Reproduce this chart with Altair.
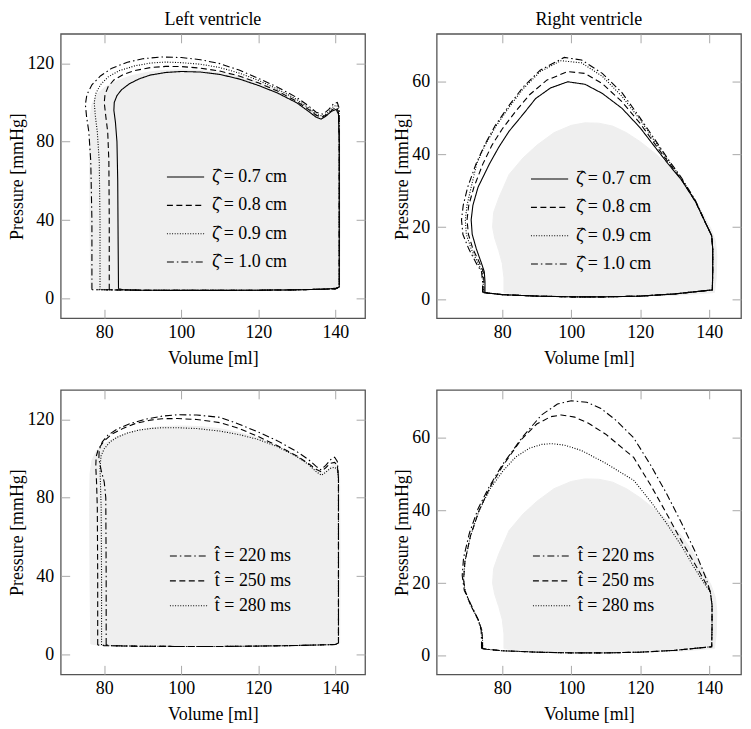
import altair as alt
import pandas as pd

FONT = "Liberation Serif"
FS = 18
W, H = 306, 286

# ---------------- data ----------------
x_ticks = [80, 100, 120, 140]
lv_y_ticks = [0, 40, 80, 120]
rv_y_ticks = [0, 20, 40, 60]
lv_x_domain = [68.7, 147.7]
lv_y_domain = [-10, 135]
rv_x_domain = [61, 149.2]
rv_y_domain = [-5.1, 73.2]

zeta_labels = ["ζ̂ = 0.7 cm", "ζ̂ = 0.8 cm", "ζ̂ = 0.9 cm", "ζ̂ = 1.0 cm"]
t_labels = ["t̂ = 220 ms", "t̂ = 250 ms", "t̂ = 280 ms"]

# reference loops (grey fill)
lv_ref_v = [76.5, 76.3, 76.2, 76.3, 76.8, 78, 80, 83, 87, 91, 95, 100, 105, 110, 115, 120, 125, 130, 133, 135,
            136.5, 138, 139.5, 140.6, 141.1, 141.2, 141.1, 140, 135, 125, 110, 95, 85, 79, 76.5]
lv_ref_p = [5.5, 40, 75, 92, 99, 104, 107.5, 110.8, 113.6, 115.3, 116.3, 116.6, 116.3, 115.2, 113.3, 110.5, 106.5, 101.5, 97, 94,
            93, 94.5, 97, 97, 90, 40, 6, 5.2, 4.7, 4.3, 4.1, 4.2, 4.4, 4.7, 5.5]
rv_ref_v = [80.5, 80.5, 80, 79, 77.8, 77.2, 77.5, 79, 82, 86, 90, 95, 100, 104, 108, 112, 116, 120, 124, 128,
            132, 135, 138, 140.5, 141.8, 142.2, 142, 141.5, 130, 110, 90, 82, 80.5]
rv_ref_p = [2, 6, 10, 13.5, 17, 20, 24, 28, 34.5, 39, 42.5, 46, 48, 48.7, 48.6, 47.8, 46, 43.5, 40.5, 37.2,
            33, 29, 24, 19.5, 16, 12, 6, 2, 1.2, 1, 1.3, 1.8, 2]

# left ventricle, zeta
lv_z07_v = [83.7, 83.6, 83.5, 83.3, 82.9, 82.5, 82.6, 83.3, 84.5, 86.5, 89, 92, 96, 100, 105, 110, 115, 120, 125, 130,
            133, 135, 136.3, 137.5, 139, 140.2, 140.8, 141, 141, 140.5, 138, 130, 120, 110, 100, 90, 85, 83.7]
lv_z07_p = [5, 30, 60, 80, 90, 96, 100, 103.5, 106.5, 109.5, 112, 114, 115.3, 115.8, 115.5, 114.3, 112, 108.7, 104.8, 99.8,
            95.5, 92.5, 91.5, 93, 95.5, 96.5, 94, 80, 6, 5.4, 4.9, 4.5, 4.3, 4.2, 4.2, 4.3, 4.5, 5]
lv_z08_v = [81.3, 81.3, 81.2, 80.9, 80.4, 80.0, 80.2, 81, 82.5, 85, 88, 92, 96, 100, 105, 110, 115, 120, 125, 130,
            133, 135, 136.5, 138, 139.3, 140.3, 140.8, 141, 141, 140, 130, 120, 110, 100, 90, 82, 80, 81.3]
lv_z08_p = [4.5, 40, 70, 85, 93, 100, 104, 108, 111.5, 114.3, 116.3, 117.8, 118.4, 118.3, 117.5, 116, 113.5, 110, 105.8, 100.5,
            96.5, 93.5, 92.5, 94, 96.5, 97.5, 95, 80, 6, 5, 4.5, 4.3, 4.2, 4.2, 4.3, 4.5, 4.5, 4.5]
lv_z09_v = [78.9, 78.9, 78.7, 78.2, 77.7, 77.4, 77.8, 79, 81, 84, 88, 92, 96, 100, 105, 110, 115, 120, 125, 130,
            133, 135, 136.7, 138.2, 139.5, 140.4, 140.9, 141, 141, 140, 130, 120, 110, 100, 90, 80, 78, 78.9]
lv_z09_p = [4.5, 40, 70, 85, 93, 100, 104.5, 109, 113, 116.3, 118.7, 120.1, 120.6, 120.3, 119.5, 117.8, 115, 111.3, 106.8, 101.5,
            97.3, 94, 93, 95, 98, 98.5, 96, 80, 6, 5, 4.5, 4.3, 4.2, 4.2, 4.3, 4.5, 4.5, 4.5]
lv_z10_v = [76.8, 76.8, 76.5, 76, 75.4, 75.1, 75.5, 76.8, 79, 82, 86, 90, 95, 100, 105, 110, 115, 120, 125, 130,
            133, 135, 136.8, 138.3, 139.6, 140.5, 141, 141, 141, 140, 130, 120, 110, 100, 90, 80, 77.5, 76.8]
lv_z10_p = [4.5, 40, 70, 85, 93, 99, 104, 109, 113.5, 117.5, 120.5, 122.3, 123.2, 122.9, 121.8, 119.8, 116.5, 112.3, 107.8, 102.5,
            98.3, 95, 94, 96.5, 99.5, 100, 97, 80, 6, 5, 4.5, 4.3, 4.2, 4.2, 4.3, 4.5, 4.5, 4.5]

# left ventricle, t
lv_t220_v = [80.5, 80.5, 80.4, 80.0, 79.2, 78.6, 78.7, 79.5, 81, 83.5, 87, 91, 95, 99, 104, 110, 115, 120, 125, 130,
             133, 135, 136.2, 137.5, 138.8, 139.8, 140.5, 140.8, 140.8, 140, 130, 120, 110, 100, 90, 82, 80.5]
lv_t220_p = [5, 40, 80, 88, 94, 100, 104.5, 108.5, 112, 115.2, 118, 120.2, 121.6, 122.3, 122.2, 121, 117.5, 113.5, 109, 103.5,
             99.5, 96, 94.3, 96.5, 99.5, 100.7, 98.5, 90, 6, 5.2, 4.7, 4.4, 4.2, 4.2, 4.3, 4.6, 5]
lv_t250_v = [78.3, 78.3, 78.2, 78.0, 77.8, 77.9, 78.5, 80, 82, 85, 88, 92, 95, 99, 104, 110, 115, 120, 125, 130,
             133, 135, 136.3, 137.5, 138.7, 139.8, 140.5, 140.8, 140.8, 140, 130, 120, 110, 100, 90, 80, 78.3]
lv_t250_p = [5, 40, 75, 88, 96, 101, 105, 109, 112.5, 115.5, 117.8, 119.6, 120.3, 120.4, 119.9, 118.3, 115.3, 111.2, 106.5, 101.3,
             97.5, 94.5, 93.3, 95.3, 97.6, 98, 96.5, 90, 6, 5.2, 4.7, 4.4, 4.2, 4.2, 4.3, 4.6, 5]
lv_t280_v = [79.3, 79.3, 79.2, 79.0, 78.9, 79.2, 80, 81.5, 83.5, 86, 89, 92, 95, 99, 104, 110, 115, 120, 125, 130,
             133, 135, 136.4, 137.5, 138.7, 139.8, 140.5, 140.8, 140.8, 140, 130, 120, 110, 100, 90, 81, 79.3]
lv_t280_p = [5, 40, 75, 88, 96, 101.5, 105, 108.5, 111, 113, 114.5, 115.3, 115.7, 115.7, 115.3, 114, 112.2, 109.7, 106, 101,
             97, 93.3, 91.5, 93, 95, 95.5, 94.5, 90, 6, 5.2, 4.7, 4.4, 4.2, 4.2, 4.3, 4.6, 5]

# right ventricle, zeta
rv_z07_v = [75, 75, 74.8, 74, 72.5, 71.3, 71, 71.5, 73, 76.3, 79, 82, 86, 89.7, 94, 99, 104, 109, 114.7, 120,
            124.3, 128, 132, 136, 139, 140.7, 141, 141, 140.9, 130, 120, 110, 100, 90, 80, 76.5, 75]
rv_z07_p = [2, 5, 7.7, 10, 14, 18, 22, 26, 31, 37.4, 42, 46.4, 51, 55.4, 58.3, 60, 59.3, 56.8, 52.7, 47.3,
            42, 37.5, 32.9, 27, 21, 17.6, 14, 8, 2.7, 1.6, 1, 0.8, 0.8, 1, 1.4, 1.8, 2]
rv_z08_v = [74.7, 74.7, 74.5, 73.5, 71.5, 70.2, 69.8, 70.3, 71.8, 74.4, 77, 80, 84, 88, 93, 99, 104, 109, 114.7, 120,
            124.3, 128, 132, 136, 139, 140.7, 141, 141, 140.9, 130, 120, 110, 100, 90, 80, 76, 74.7]
rv_z08_p = [2, 5, 7.7, 10, 14, 18, 22, 26, 31, 37.4, 42.5, 47, 52, 56.5, 60.5, 62.8, 62.3, 59.5, 54.5, 48.5,
            42.8, 38, 33, 27, 21, 17.6, 14, 8, 2.7, 1.6, 1, 0.8, 0.8, 1, 1.4, 1.8, 2]
rv_z09_v = [74.5, 74.5, 74.2, 73, 71, 69.6, 69.3, 69.8, 71, 72.6, 75, 78, 82, 86, 91, 97, 103, 109, 114.7, 120,
            124.3, 128, 132, 136, 139, 140.7, 141, 141, 140.9, 130, 120, 110, 100, 90, 80, 76, 74.5]
rv_z09_p = [2, 5, 7.7, 10, 14, 18, 22, 26, 31, 37.4, 42.5, 47.5, 53, 58, 62.8, 65.8, 65.2, 61.5, 56, 49.5,
            43.5, 38.5, 33.3, 27.2, 21, 17.6, 14, 8, 2.7, 1.6, 1, 0.8, 0.8, 1, 1.4, 1.8, 2]
rv_z10_v = [74.3, 74.3, 74, 72.5, 70.3, 68.6, 68.2, 68.7, 70, 72.4, 75, 78, 82, 86, 91, 98, 103, 109, 114.7, 120,
            124.3, 128, 132, 136, 139, 140.7, 141, 141, 140.9, 130, 120, 110, 100, 90, 80, 76, 74.3]
rv_z10_p = [2, 5, 7.7, 10, 14, 18, 22, 26, 31, 37.4, 42.8, 48, 53.5, 58.5, 63.2, 66.7, 66, 62.3, 57, 50,
            44, 38.8, 33.5, 27.3, 21, 17.6, 14, 8, 2.7, 1.6, 1, 0.8, 0.8, 1, 1.4, 1.8, 2]

# right ventricle, t
rv_t220_v = [74, 74, 73.9, 73, 71, 69, 68.4, 68.8, 70.5, 73, 76.2, 80, 85.7, 91.4, 96, 100, 104.5, 108.6, 113, 118.1,
             123, 127.6, 132, 136, 139, 140.3, 140.8, 140.8, 140.7, 130, 120, 110, 100, 90, 80, 75.5, 74]
rv_t220_p = [2, 4, 7, 10, 14, 18, 22.1, 27, 33.8, 40.5, 46.5, 52.5, 60, 66.3, 69.3, 70.2, 69.8, 68.1, 64.8, 60,
             52.5, 44.7, 36.5, 28.5, 21.5, 17.6, 14, 8, 2.5, 1.5, 1, 0.8, 0.8, 1, 1.4, 1.8, 2]
rv_t250_v = [74.3, 74.3, 74.1, 73, 70.8, 69.2, 68.8, 69.2, 70.8, 73.3, 76.5, 80.3, 85.5, 90, 94, 97.1, 101, 105, 110, 118.1,
             123, 127.6, 132, 136, 139, 140.3, 140.8, 140.8, 140.7, 130, 120, 110, 100, 90, 80, 75.5, 74.3]
rv_t250_p = [2, 4, 7, 10, 14, 18, 21, 26, 33, 40, 46.5, 52.5, 59.5, 63.8, 65.8, 66.3, 65.7, 64, 61, 54.6,
             47, 39.2, 31.5, 25, 20, 17.6, 14, 8, 2.5, 1.5, 1, 0.8, 0.8, 1, 1.4, 1.8, 2]
rv_t280_v = [74.3, 74.3, 74.1, 73, 70.8, 69.2, 68.8, 69.2, 70.8, 73.3, 76.5, 80.3, 84, 88, 91.5, 94.3, 98, 103, 110, 118.1,
             123, 127.6, 132, 135.3, 138.5, 140.3, 140.8, 140.8, 140.7, 130, 120, 110, 100, 90, 80, 75.5, 74.3]
rv_t280_p = [2, 4, 7, 10, 14, 18, 21, 26, 33, 40, 46, 51, 54.8, 57.2, 58.2, 58.4, 58, 56.5, 53, 48.3,
             42.5, 36.5, 30.2, 24.8, 20, 17.6, 14, 8, 2.5, 1.5, 1, 0.8, 0.8, 1, 1.4, 1.8, 2]

DASH_SOLID = [1, 0]
DASH_DASHED = [6, 3.5]
DASH_DOTTED = [1, 1.6]
DASH_DASHDOT = [7, 3, 1.5, 3]


def loop_df(vs, ps, name):
    assert len(vs) == len(ps), name
    return pd.DataFrame({"V": vs, "P": ps, "s": name, "i": list(range(len(vs)))})


def panel(ref, series, labels, dashes, xdom, ydom, yticks, lx, ly, row_pad, title=None):
    gdf = loop_df(ref[0], ref[1], "ref")
    ldf = pd.concat([loop_df(v, p, lab) for (v, p), lab in zip(series, labels)], ignore_index=True)
    xs = alt.Scale(domain=xdom, nice=False, zero=False)
    ys = alt.Scale(domain=ydom, nice=False, zero=False)
    tick_style = dict(labels=False, title=None, tickSize=9, tickColor="#a8a8a8", tickWidth=1,
                      domain=False, grid=False)

    fill = alt.Chart(gdf).mark_line(fill="#efefef", stroke="#efefef", strokeWidth=1).encode(
        x=alt.X("V:Q", scale=xs, axis=alt.Axis(
            title="Volume [ml]", values=x_ticks, ticks=False, domain=False, grid=False,
            labelFont=FONT, labelFontSize=FS, labelColor="black", labelPadding=5,
            titleFont=FONT, titleFontSize=FS, titleFontWeight="normal", titleColor="black",
            titlePadding=8)),
        y=alt.Y("P:Q", scale=ys, axis=alt.Axis(
            title="Pressure [mmHg]", values=yticks, ticks=False, domain=False, grid=False,
            labelFont=FONT, labelFontSize=FS, labelColor="black", labelPadding=7,
            titleFont=FONT, titleFontSize=FS, titleFontWeight="normal", titleColor="black",
            titlePadding=0)),
        order="i:Q",
    )
    lines = alt.Chart(ldf).mark_line(color="black", strokeWidth=1.1).encode(
        x=alt.X("V:Q", scale=xs, axis=alt.Axis(orient="top", offset=-H, values=x_ticks, **tick_style)),
        y=alt.Y("P:Q", scale=ys, axis=alt.Axis(orient="right", offset=-W, values=yticks, **tick_style)),
        strokeDash=alt.StrokeDash("s:N", scale=alt.Scale(domain=labels, range=dashes), legend=alt.Legend(
            orient="none", legendX=lx, legendY=ly, title=None, padding=0,
            labelFont=FONT, labelFontSize=FS, labelColor="black", labelOffset=7,
            symbolType="stroke", symbolSize=1400, symbolStrokeWidth=1.1, symbolStrokeColor="black",
            clipHeight=20, rowPadding=row_pad)),
        detail="s:N",
        order="i:Q",
    )
    ticks2 = alt.Chart(gdf).mark_line(strokeOpacity=0).encode(
        x=alt.X("V:Q", scale=xs, axis=alt.Axis(orient="bottom", offset=-H, values=x_ticks, **tick_style)),
        y=alt.Y("P:Q", scale=ys, axis=alt.Axis(orient="left", offset=-W, values=yticks, **tick_style)),
        order="i:Q",
    )
    ch = alt.layer(fill, lines, ticks2).resolve_axis(x="independent", y="independent")
    if title is not None:
        ch = ch.properties(width=W, height=H, title=alt.TitleParams(
            title, font=FONT, fontSize=FS, fontWeight="normal", color="black", offset=4, frame="group"))
    else:
        ch = ch.properties(width=W, height=H)
    return ch


zeta_dashes = [DASH_SOLID, DASH_DASHED, DASH_DOTTED, DASH_DASHDOT]
t_dashes = [DASH_DASHDOT, DASH_DASHED, DASH_DOTTED]

p1 = panel((lv_ref_v, lv_ref_p),
           [(lv_z07_v, lv_z07_p), (lv_z08_v, lv_z08_p), (lv_z09_v, lv_z09_p), (lv_z10_v, lv_z10_p)],
           zeta_labels, zeta_dashes, lv_x_domain, lv_y_domain, lv_y_ticks, 106, 134, 8.5,
           title="Left ventricle")
p2 = panel((rv_ref_v, rv_ref_p),
           [(rv_z07_v, rv_z07_p), (rv_z08_v, rv_z08_p), (rv_z09_v, rv_z09_p), (rv_z10_v, rv_z10_p)],
           zeta_labels, zeta_dashes, rv_x_domain, rv_y_domain, rv_y_ticks, 94, 136, 8.5,
           title="Right ventricle")
p3 = panel((lv_ref_v, lv_ref_p),
           [(lv_t220_v, lv_t220_p), (lv_t250_v, lv_t250_p), (lv_t280_v, lv_t280_p)],
           t_labels, t_dashes, lv_x_domain, lv_y_domain, lv_y_ticks, 109, 157, 5)
p4 = panel((rv_ref_v, rv_ref_p),
           [(rv_t220_v, rv_t220_p), (rv_t250_v, rv_t250_p), (rv_t280_v, rv_t280_p)],
           t_labels, t_dashes, rv_x_domain, rv_y_domain, rv_y_ticks, 96, 157, 5)

top = alt.hconcat(p1, p2, spacing=26).resolve_scale(strokeDash="independent").resolve_legend(strokeDash="independent")
bottom = alt.hconcat(p3, p4, spacing=26).resolve_scale(strokeDash="independent").resolve_legend(strokeDash="independent")

chart = alt.vconcat(top, bottom, spacing=20).resolve_scale(
    strokeDash="independent").resolve_legend(strokeDash="independent").properties(
    padding=0
).configure(
    background="white", font=FONT
).configure_view(
    stroke="#555555", strokeWidth=1.3
).configure_axis(
    labelFont=FONT, titleFont=FONT
).configure_legend(
    labelFont=FONT
).configure_title(
    font=FONT
)

chart.save("out.html", embed_options={"renderer": "svg", "actions": False})
